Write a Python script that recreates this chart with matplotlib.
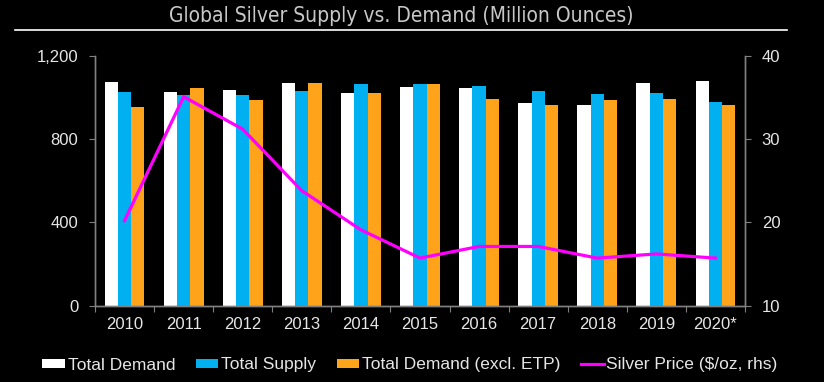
import matplotlib
matplotlib.use('Agg')
import matplotlib.pyplot as plt
from matplotlib.lines import Line2D
import numpy as np

# Data
years = ['2010', '2011', '2012', '2013', '2014', '2015',
         '2016', '2017', '2018', '2019', '2020*']
total_demand = [1075, 1026, 1037, 1072, 1021, 1050, 1045, 973, 965, 1071, 1082]
total_supply = [1026, 1012, 1012, 1034, 1063, 1063, 1058, 1032, 1016, 1024, 978]
demand_ex_etp = [955, 1047, 986, 1069, 1021, 1066, 994, 965, 987, 992, 962]
silver_price = [20.2, 35.1, 31.2, 23.8, 19.1, 15.7, 17.1, 17.1, 15.7, 16.2, 15.7]

W, H = 824, 382
BG = '#000000'
FG = '#e6e6e6'
SPINE = '#808080'
plt.rcParams['font.family'] = ['Liberation Sans', 'DejaVu Sans']

fig = plt.figure(figsize=(W / 100, H / 100), dpi=100, facecolor=BG)
ax = fig.add_axes([95 / W, 1 - 305.5 / H, 650 / W, 249.5 / H], facecolor=BG)

x = np.arange(len(years))
bw = 0.225
b1 = ax.bar(x - bw, total_demand, bw, color='#ffffff', label='Total Demand')
b2 = ax.bar(x, total_supply, bw, color='#00b0f0', label='Total Supply')
b3 = ax.bar(x + bw, demand_ex_etp, bw, color='#ffa31a',
            label='Total Demand (excl. ETP)')

ax.set_xlim(-0.5, len(years) - 0.5)
ax.set_ylim(0, 1200)
ax.set_yticks([0, 400, 800, 1200])
ax.set_yticklabels(['0', '400', '800', '1,200'])
ax.set_xticks(np.arange(-0.5, len(years), 1.0))
ax.set_xticklabels([])
ax.set_xticks(x, minor=True)
ax.set_xticklabels(years, minor=True)
ax.tick_params(axis='x', which='major', length=4, color=SPINE, direction='out')
ax.tick_params(axis='x', which='minor', length=0, pad=8, labelsize=12,
               labelcolor=FG)
ax.tick_params(axis='y', length=4, color=SPINE, pad=8, labelsize=12,
               labelcolor=FG)

ax2 = ax.twinx()
line, = ax2.plot(x, silver_price, color='#ff00ff', lw=2.3,
                 solid_joinstyle='round', label='Silver Price ($/oz, rhs)')
ax2.set_ylim(10, 40)
ax2.set_yticks([10, 20, 30, 40])
ax2.tick_params(axis='y', length=4, color=SPINE, pad=8, labelsize=12,
                labelcolor=FG)

for a in (ax, ax2):
    a.spines['top'].set_visible(False)
    for s in ('left', 'right', 'bottom'):
        a.spines[s].set_color(SPINE)
        a.spines[s].set_linewidth(1.0)

# Title and rule under it
fig.text(401 / W, 1 - 16 / H, 'Global Silver Supply vs. Demand (Million Ounces)',
         ha='center', va='center', color='#c8c8c8', fontsize=15,
         family='DejaVu Sans', fontstretch='condensed')
fig.add_artist(Line2D([15 / W, 787 / W], [1 - 30 / H, 1 - 30 / H],
                      color='#ffffff', lw=1.2))

leg = fig.legend(handles=[b1, b2, b3, line], loc='center',
                 bbox_to_anchor=(410 / W, 1 - 365 / H), ncol=4, frameon=False,
                 fontsize=12.5, handlelength=1.3, handleheight=0.45,
                 handletextpad=0.15, columnspacing=1.2, labelcolor=FG)

fig.savefig('out.png', dpi=100, facecolor=BG)
